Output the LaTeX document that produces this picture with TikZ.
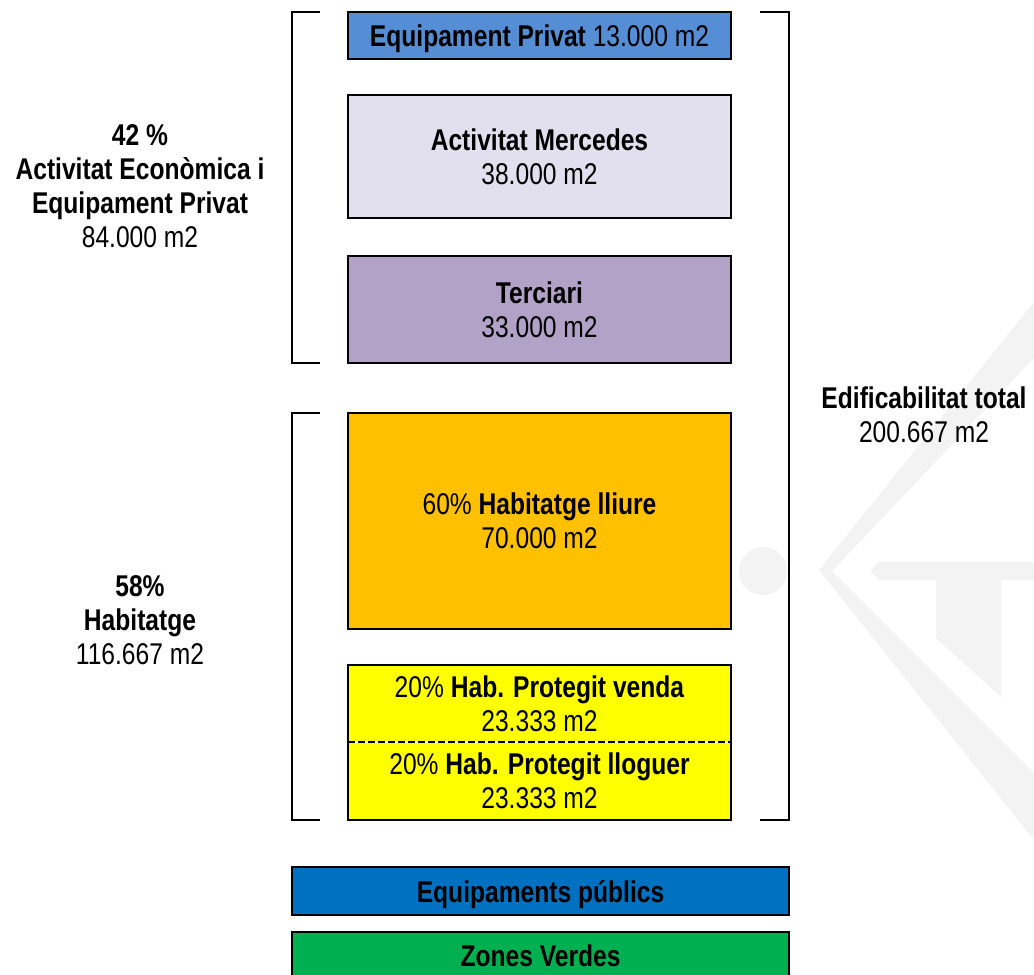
\documentclass[tikz,border=0pt]{standalone}
\usepackage{fontspec}
\newfontfamily\narrowfont{Liberation Sans}[FakeStretch=0.82]
\usetikzlibrary{positioning}
\definecolor{privblue}{HTML}{558ED5}
\definecolor{mercedes}{HTML}{E2DFEE}
\definecolor{terciari}{HTML}{B3A2C7}
\definecolor{lliure}{HTML}{FFC000}
\definecolor{protyellow}{HTML}{FFFF00}
\definecolor{pubblue}{HTML}{0070C0}
\definecolor{verdes}{HTML}{00B050}
\definecolor{wmgray}{HTML}{F3F3F3}

\begin{document}
\begin{tikzpicture}[x=1pt,y=1pt,node distance=36pt,
    every node/.style={font=\narrowfont\fontsize{30}{34}\selectfont,align=center,
                       inner sep=0pt,outer sep=0pt,text depth=0pt},
    area/.style={draw,line width=2.2pt,minimum width=383pt},
    bracket/.style={line width=2pt},
    wmark/.style={fill=wmgray,draw=none}]
  \useasboundingbox (0,0) rectangle (1034,-975);

  % watermark
  \fill[wmark] (763,-571) circle (24);
  \fill[wmark] (1034,-302) -- (819,-570) -- (1034,-840) -- (1034,-773)
               -- (832,-571) -- (1034,-358) -- cycle;
  \fill[wmark] (878,-562) -- (1034,-562) -- (1034,-580) -- (1001,-580) -- (1001,-697)
               -- (936,-638) -- (936,-580) -- (880,-580) -- (870,-571) -- cycle;

  \node[area,fill=privblue,minimum height=47pt] (eqpriv) at (539.5,-35.5)
       {\textbf{Equipament Privat} 13.000 m2};
  \node[area,fill=mercedes,minimum height=123pt] (mercedes) [below=36pt of eqpriv]
       {\textbf{Activitat Mercedes}\\38.000 m2};
  \node[area,fill=terciari,minimum height=107pt] (terciari) [below=38pt of mercedes]
       {\textbf{Terciari}\\33.000 m2};
  \node[area,fill=lliure,minimum height=216pt] (lliure) [below=50pt of terciari]
       {60\% \textbf{Habitatge lliure}\\70.000 m2};
  \node[area,draw=none,fill=protyellow,minimum height=77pt] (venda) [below=36pt of lliure]
       {20\% \textbf{Hab. Protegit venda}\\23.333 m2};
  \node[area,draw=none,fill=protyellow,minimum height=78pt] (lloguer) [below=0pt of venda]
       {20\% \textbf{Hab. Protegit lloguer}\\23.333 m2};
  \node[area,fill=pubblue,minimum width=497pt,minimum height=48pt] (eqpub)
       [below=47pt of lloguer,xshift=1pt] {\textbf{Equipaments públics}};
  \node[area,fill=verdes,minimum width=497pt,minimum height=48pt] (verdes)
       [below=17pt of eqpub] {\textbf{Zones Verdes}};

  \draw[white,line width=2pt] (venda.south west) -- (venda.south east);
  \draw[dash pattern=on 7pt off 3pt,line width=2pt] (venda.south west) -- (venda.south east);
  \draw[line width=2.2pt] (venda.north west) rectangle (lloguer.south east);

  \draw[bracket] ([xshift=-28pt]eqpriv.north west) -- ++(-28,0) |- ([xshift=-28pt]terciari.south west);
  \draw[bracket] ([xshift=-28pt]lliure.north west) -- ++(-28,0) |- ([xshift=-28pt]lloguer.south west);
  \draw[bracket] ([xshift=29pt]eqpriv.north east) -- ++(29,0) |- ([xshift=29pt]lloguer.south east);

  \node (econ) at (140,-186)
       {\textbf{42 \%}\\\textbf{Activitat Econòmica i}\\\textbf{Equipament Privat}\\84.000 m2};
  \node (habit) at (140,-620) {\textbf{58\%}\\\textbf{Habitatge}\\116.667 m2};
  \node (total) at (924,-415) {\textbf{Edificabilitat total}\\200.667 m2};
\end{tikzpicture}
\end{document}
